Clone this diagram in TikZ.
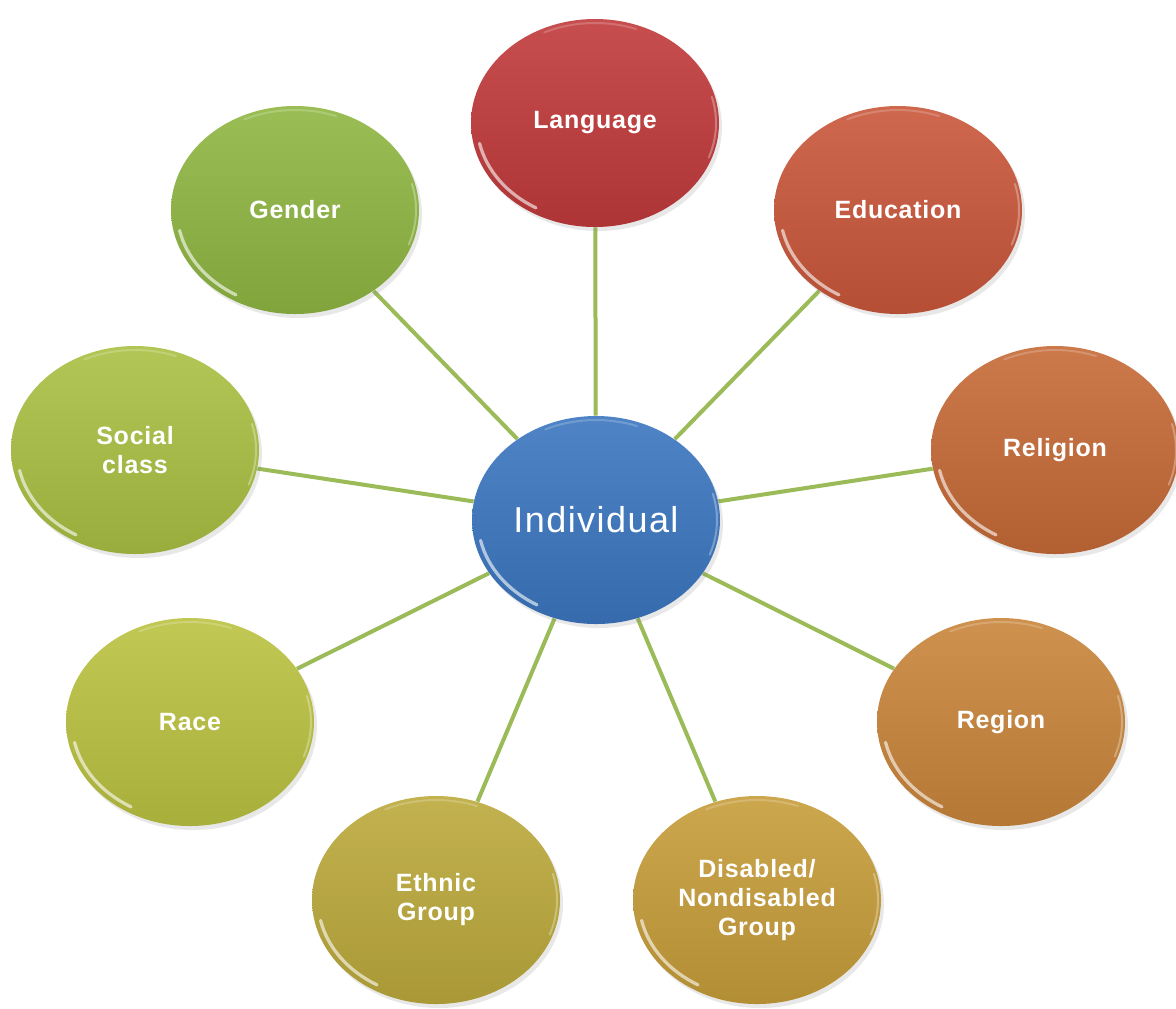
\documentclass[tikz,border=0pt]{standalone}
\usepackage{fontspec}
\setmainfont{Liberation Sans}
\usetikzlibrary{shapes.geometric,backgrounds,shadows,calc}

\definecolor{cIndiv}{HTML}{3B77C0}
\definecolor{cLang}{HTML}{C13A3B}
\definecolor{cEduc}{HTML}{C9573A}
\definecolor{cRelig}{HTML}{C66A37}
\definecolor{cRegion}{HTML}{C9853B}
\definecolor{cDisab}{HTML}{C69D3A}
\definecolor{cEthnic}{HTML}{BCAA3C}
\definecolor{cRace}{HTML}{BBC241}
\definecolor{cSocial}{HTML}{A9C043}
\definecolor{cGender}{HTML}{8FB742}
\definecolor{cLink}{HTML}{9BBB59}

\tikzset{
  bubble/.style={ellipse, draw=none, minimum width=124pt, minimum height=104pt,
    inner sep=0pt, align=center, text=white,
    top color=#1!90!white, bottom color=#1!90!black,
    drop shadow={shadow xshift=1.5pt, shadow yshift=-2pt, opacity=.18},
    font=\bfseries\fontsize{12.5}{14.5}\selectfont\addfontfeatures{LetterSpace=3},
    path picture={
      % shine on the lower left rim
      \draw[white, opacity=.6, line width=1.6pt, line cap=round]
        ($(path picture bounding box.center)+(192:59pt and 49pt)$)
        arc[start angle=192, end angle=240, x radius=59pt, y radius=49pt];
      \draw[white, opacity=.2, line width=1pt, line cap=round]
        ($(path picture bounding box.center)+(70:60pt and 50pt)$)
        arc[start angle=70, end angle=115, x radius=60pt, y radius=50pt];
      \draw[white, opacity=.3, line width=1pt, line cap=round]
        ($(path picture bounding box.center)+(-20:60.5pt and 50.5pt)$)
        arc[start angle=-20, end angle=15, x radius=60.5pt, y radius=50.5pt];
    }},
  link/.style={draw=cLink, line width=2pt},
}

\begin{document}
\begin{tikzpicture}[x=0.5pt, y=-0.5pt]
  % centres of the bubbles
  \def\xMid{596}   \def\yMid{520}
  \def\xLeftA{135} \def\xLeftB{190} \def\xLeftC{295}
  \def\xRightA{1055} \def\xRightB{1001} \def\xRightC{898}
  \def\yRowA{123}  \def\yRowB{210} \def\yRowC{450} \def\yRowD{722} \def\yRowE{900}

  \useasboundingbox (0,0) rectangle (1176,1008);

  \node[bubble=cIndiv, font=\fontsize{18}{20}\selectfont\addfontfeatures{LetterSpace=4}]
    (indiv) at (\xMid,\yMid) {Individual};

  \node[bubble=cLang]    (lang)   at (\xMid-1,\yRowA)  {Language};
  \node[bubble=cEduc]    (educ)   at (\xRightC,\yRowB) {Education};
  \node[bubble=cRelig]   (relig)  at (\xRightA,\yRowC) {Religion};
  \node[bubble=cRegion]  (region) at (\xRightB,\yRowD) {Region};
  \node[bubble=cDisab]   (disab)  at (757,\yRowE)      {Disabled/\\Nondisabled\\Group};
  \node[bubble=cEthnic]  (ethnic) at (436,\yRowE)      {Ethnic\\Group};
  \node[bubble=cRace]    (race)   at (\xLeftB,\yRowD)  {Race};
  \node[bubble=cSocial]  (social) at (\xLeftA,\yRowC)  {Social\\class};
  \node[bubble=cGender]  (gender) at (\xLeftC,\yRowB)  {Gender};

  % spokes behind the bubbles
  \begin{scope}[on background layer]
    \foreach \n in {lang,educ,relig,region,disab,ethnic,race,social,gender}
      \draw[link] (indiv) -- (\n);
  \end{scope}
\end{tikzpicture}
\end{document}
